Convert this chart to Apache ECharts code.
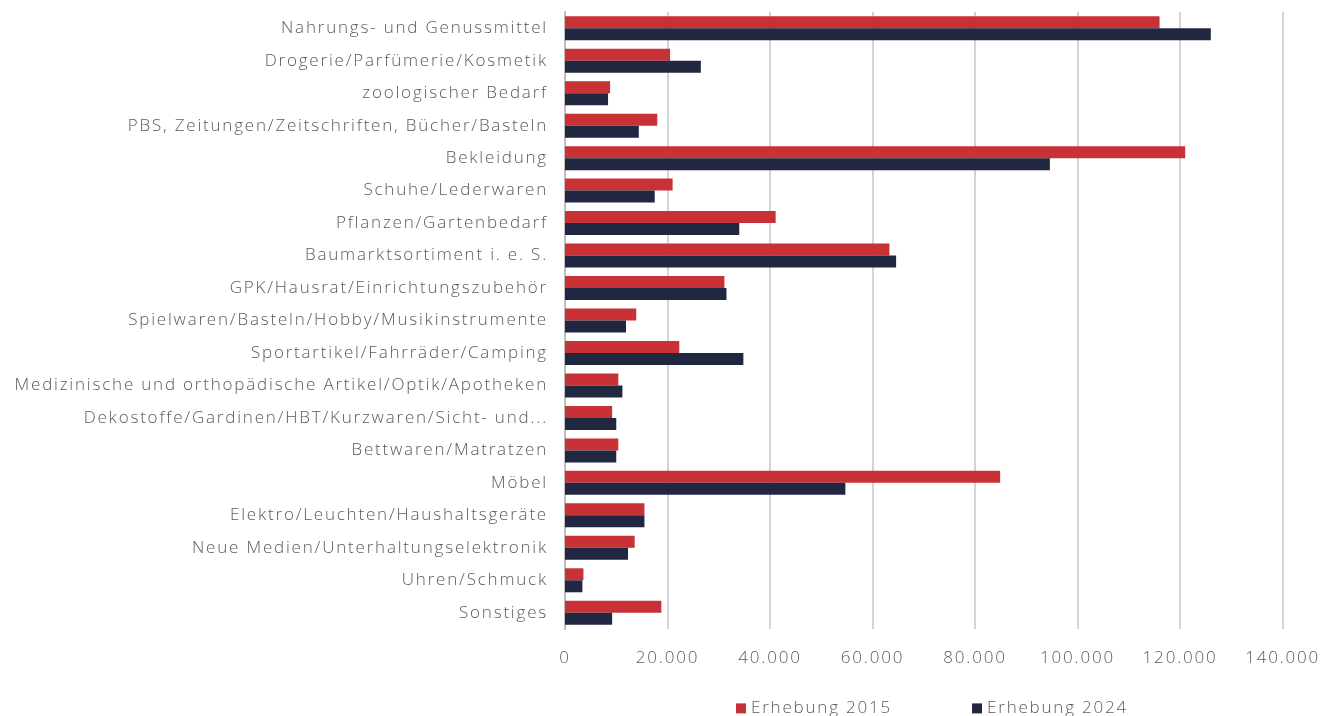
<!DOCTYPE html>
<html><head><meta charset="utf-8">
<script src="https://cdn.jsdelivr.net/npm/echarts@6/dist/echarts.min.js"></script>
<style>html,body{margin:0;padding:0;background:#fff}#c{width:1323px;height:716px}</style>
</head><body><div id="c"></div>
<script>
const categories = [
  "Nahrungs- und Genussmittel",
  "Drogerie/Parfümerie/Kosmetik",
  "zoologischer Bedarf",
  "PBS, Zeitungen/Zeitschriften, Bücher/Basteln",
  "Bekleidung",
  "Schuhe/Lederwaren",
  "Pflanzen/Gartenbedarf",
  "Baumarktsortiment i. e. S.",
  "GPK/Hausrat/Einrichtungszubehör",
  "Spielwaren/Basteln/Hobby/Musikinstrumente",
  "Sportartikel/Fahrräder/Camping",
  "Medizinische und orthopädische Artikel/Optik/Apotheken",
  "Dekostoffe/Gardinen/HBT/Kurzwaren/Sicht- und...",
  "Bettwaren/Matratzen",
  "Möbel",
  "Elektro/Leuchten/Haushaltsgeräte",
  "Neue Medien/Unterhaltungselektronik",
  "Uhren/Schmuck",
  "Sonstiges"
];
const erhebung2015 = [116000, 20500, 8800, 18000, 121000, 21000, 41100, 63300, 31100, 13900, 22300, 10400, 9200, 10400, 84900, 15500, 13600, 3600, 18800];
const erhebung2024 = [126000, 26500, 8400, 14400, 94600, 17500, 34000, 64600, 31500, 11900, 34800, 11200, 10000, 10000, 54700, 15500, 12300, 3400, 9200];
const seriesNames = ["Erhebung 2015", "Erhebung 2024"];

// widen text slightly, as in the reference typeface
(function () {
  const p = CanvasRenderingContext2D.prototype;
  if (!('letterSpacing' in p)) return;
  const f = p.fillText, m = p.measureText;
  p.fillText = function () { this.letterSpacing = '1.8px'; return f.apply(this, arguments); };
  p.measureText = function () { this.letterSpacing = '1.8px'; return m.apply(this, arguments); };
})();

const fmt = v => String(v).replace(/\B(?=(\d{3})+(?!\d))/g, ".");
const font = "'Open Sans', sans-serif";
const txt = '#5a5a5a';
const chart = echarts.init(document.getElementById('c'));
chart.setOption({
  animation: false,
  textStyle: { fontFamily: font },
  grid: { left: 565, right: 39, top: 12, bottom: 87, containLabel: false },
  legend: {
    data: seriesNames, left: 731, top: 694, itemWidth: 10, itemHeight: 10, itemGap: 80,
    textStyle: { fontSize: 17, color: txt, fontFamily: font, fontWeight: 300 }, icon: 'rect'
  },
  xAxis: {
    type: 'value', min: 0, max: 140000, interval: 20000,
    axisLine: { show: false }, axisTick: { show: false },
    splitLine: { lineStyle: { color: '#c6c6c6', width: 1.5 } },
    axisLabel: { formatter: fmt, fontSize: 17, color: txt, margin: 20, fontFamily: font, fontWeight: 300 }
  },
  yAxis: {
    type: 'category', data: categories, inverse: true,
    axisLine: { show: true, lineStyle: { color: '#bfbfbf', width: 2 } },
    axisTick: { show: false },
    axisLabel: { fontSize: 17, color: txt, margin: 17, fontFamily: font, fontWeight: 300 }
  },
  series: [
    { name: seriesNames[0], type: 'bar', data: erhebung2015, barWidth: 12, barGap: '0%', itemStyle: { color: '#c83236' } },
    { name: seriesNames[1], type: 'bar', data: erhebung2024, barWidth: 12, barGap: '0%', itemStyle: { color: '#222741' } }
  ]
});
</script></body></html>
